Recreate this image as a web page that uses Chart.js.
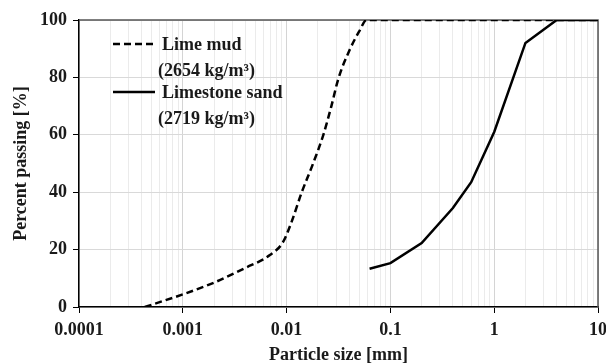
<!DOCTYPE html>
<html>
<head>
<meta charset="utf-8">
<script src="https://cdn.jsdelivr.net/npm/chart.js@4.4.1/dist/chart.umd.min.js"></script>
<style>
    html, body { margin: 0; padding: 0; background: #fff; }
    #wrap { width: 606px; height: 364px; }
</style>
</head>
<body>
<div id="wrap"><canvas id="psdChart" width="606" height="364"></canvas></div>
<script>
// Particle size distribution: lime mud vs limestone sand

// Lime mud (hydrometer + sieve), sizes in mm, percent passing
const MUD_SIZES = [0.00043, 0.001, 0.002, 0.004, 0.0069, 0.0092, 0.011, 0.014, 0.018, 0.0226, 0.027, 0.0315, 0.041, 0.05, 0.059, 10];
const MUD_PASSING = [0, 4.4, 8.5, 13.6, 18.1, 22.5, 29, 40, 50, 60, 70, 79.5, 90, 96, 100, 100];

// Limestone sand (sieve)
const SAND_SIZES = [0.063, 0.1, 0.2, 0.4, 0.6, 1, 2, 4, 10];
const SAND_PASSING = [13.3, 15.3, 22.3, 34.5, 43.5, 61, 92, 100, 100];

// Legend text
const SERIES_NAMES = ['Lime mud', 'Limestone sand'];
const SERIES_DENSITY = ['(2654 kg/m\u00b3)', '(2719 kg/m\u00b3)'];

// Axis ticks
const X_MAJOR = [0.0001, 0.001, 0.01, 0.1, 1, 10];
const X_LABELS = ['0.0001', '0.001', '0.01', '0.1', '1', '10'];
const X_MINOR_STEPS = [2, 3, 4, 5, 6, 7, 8, 9];
const Y_TICKS = [0, 20, 40, 60, 80, 100];

const FONT_FAMILY = "'Liberation Serif', 'Times New Roman', serif";
const TEXT_COLOR = '#1a1a1a';

function toPoints(xs, ys) {
    return xs.map((x, i) => ({ x: x, y: ys[i] }));
}

// Dark frame on the top and right edges of the plot area
const framePlugin = {
    id: 'frame',
    beforeDatasetsDraw(chart) {
        const { ctx, chartArea: a } = chart;
        ctx.save();
        ctx.strokeStyle = '#555';
        ctx.lineWidth = 1.5;
        ctx.beginPath();
        ctx.moveTo(a.left, a.top);
        ctx.lineTo(a.right, a.top);
        ctx.lineTo(a.right, a.bottom);
        ctx.stroke();
        ctx.restore();
    }
};

// Legend inside the plot, two text lines per entry
const innerLegendPlugin = {
    id: 'innerLegend',
    afterDatasetsDraw(chart) {
        const { ctx, chartArea: a } = chart;
        ctx.save();
        ctx.font = 'bold 18px ' + FONT_FAMILY;
        ctx.textBaseline = 'middle';
        ctx.textAlign = 'left';
        chart.data.datasets.forEach(function (ds, i) {
            const y = a.top + 24 + i * 48;
            ctx.strokeStyle = ds.borderColor;
            ctx.lineWidth = ds.borderWidth;
            ctx.setLineDash(ds.borderDash || []);
            ctx.beginPath();
            ctx.moveTo(a.left + 34, y);
            ctx.lineTo(a.left + 76, y);
            ctx.stroke();
            ctx.setLineDash([]);
            ctx.fillStyle = TEXT_COLOR;
            ctx.fillText(SERIES_NAMES[i], a.left + 83, y + 1);
            ctx.fillText(SERIES_DENSITY[i], a.left + 79, y + 27);
        });
        ctx.restore();
    }
};

const canvas = document.getElementById('psdChart');

new Chart(canvas.getContext('2d'), {
    type: 'line',
    data: {
        datasets: [
            {
                label: SERIES_NAMES[0],
                data: toPoints(MUD_SIZES, MUD_PASSING),
                borderColor: '#000',
                borderWidth: 2.5,
                borderDash: [7, 4],
                cubicInterpolationMode: 'monotone',
                pointRadius: 0,
                fill: false
            },
            {
                label: SERIES_NAMES[1],
                data: toPoints(SAND_SIZES, SAND_PASSING),
                borderColor: '#000',
                borderWidth: 2.5,
                tension: 0,
                pointRadius: 0,
                fill: false
            }
        ]
    },
    options: {
        responsive: false,
        animation: false,
        devicePixelRatio: 1,
        layout: { padding: { top: 20, right: 0, bottom: 0, left: 0 } },
        plugins: {
            legend: { display: false },
            tooltip: { enabled: false }
        },
        scales: {
            x: {
                type: 'logarithmic',
                min: 0.0001,
                max: 10,
                afterBuildTicks: function (scale) {
                    const ticks = [];
                    X_MAJOR.forEach(function (m, i) {
                        ticks.push({ value: m, major: true });
                        if (i < X_MAJOR.length - 1) {
                            X_MINOR_STEPS.forEach(k => ticks.push({ value: k * m, major: false }));
                        }
                    });
                    scale.ticks = ticks;
                },
                afterFit: function (scale) {
                    scale.height = 57;
                    // let the last label "10" run to the canvas edge
                    scale.paddingRight = 8;
                },
                grid: {
                    color: ctx => (ctx.tick && ctx.tick.major ? '#d4d4d4' : '#ebebeb'),
                    tickColor: ctx => (ctx.tick && ctx.tick.major ? '#000' : 'rgba(0,0,0,0)'),
                    tickLength: 6,
                    lineWidth: 1
                },
                border: { display: true, color: '#000', width: 1.5 },
                ticks: {
                    autoSkip: false,
                    maxRotation: 0,
                    minRotation: 0,
                    padding: 7,
                    color: TEXT_COLOR,
                    font: { family: FONT_FAMILY, size: 18, weight: 'bold' },
                    callback: function (value) {
                        const i = X_MAJOR.indexOf(value);
                        return i >= 0 ? X_LABELS[i] : '';
                    }
                },
                title: {
                    display: true,
                    text: 'Particle size [mm]',
                    color: TEXT_COLOR,
                    padding: { top: 0, bottom: 0 },
                    font: { family: FONT_FAMILY, size: 18, weight: 'bold', lineHeight: 1 }
                }
            },
            y: {
                type: 'linear',
                min: 0,
                max: 100,
                afterBuildTicks: function (scale) {
                    scale.ticks = Y_TICKS.map(v => ({ value: v }));
                },
                afterFit: function (scale) {
                    scale.width = 79;
                },
                grid: {
                    color: '#d9d9d9',
                    tickColor: '#000',
                    tickLength: 6,
                    lineWidth: 1
                },
                border: { display: true, color: '#000', width: 1.5 },
                ticks: {
                    padding: 6,
                    color: TEXT_COLOR,
                    font: { family: FONT_FAMILY, size: 18, weight: 'bold' }
                },
                title: {
                    display: true,
                    text: 'Percent passing [%]',
                    color: TEXT_COLOR,
                    padding: { top: 12, bottom: 0 },
                    font: { family: FONT_FAMILY, size: 18, weight: 'bold', lineHeight: 1 }
                }
            }
        }
    },
    plugins: [framePlugin, innerLegendPlugin]
});
</script>
</body>
</html>
